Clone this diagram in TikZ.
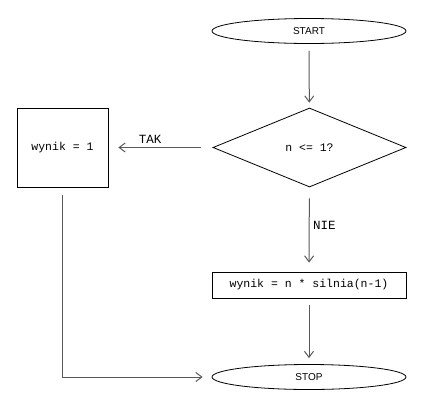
\documentclass[tikz,border=0pt]{standalone}
\usepackage{fontspec}
\setmainfont{Liberation Sans}
\setmonofont{Liberation Mono}
\usetikzlibrary{shapes.geometric,arrows.meta}

\tikzset{
  term/.style={draw,ellipse,line width=0.8pt,minimum width=194pt,minimum height=25pt,inner sep=0pt,font=\fontsize{10}{12}\selectfont},
  decision/.style={draw,diamond,line width=0.8pt,minimum width=193pt,minimum height=79pt,inner sep=0pt,font=\fontsize{11.5}{13}\ttfamily},
  proc/.style={draw,rectangle,line width=0.8pt,inner sep=0pt,font=\fontsize{11.5}{13}\ttfamily},
  flow/.style={draw=black!65,line width=1pt,-{Straight Barb[length=6pt,width=9pt]}},
  branch/.style={font=\fontsize{12.5}{14}\ttfamily}
}

\begin{document}
\begin{tikzpicture}[x=1pt,y=-1pt]
\useasboundingbox (0,0) rectangle (421,405);
\node[term] (start) at (309,31) {START};
\node[decision] (cond) at (309.5,147.5) {n <= 1?};
\node[proc,minimum width=91pt,minimum height=79pt] (base) at (62.5,147.5) {wynik = 1};
\node[proc,minimum width=194pt,minimum height=26pt] (rec) at (309,285) {wynik = n * silnia(n-1)};
\node[term] (stop) at (309,377) {STOP};

\draw[flow,shorten <=7pt,shorten >=5pt] (start) -- (cond);
\draw[flow,shorten <=12pt,shorten >=10pt] (cond) -- node[branch,above,pos=0.6]{TAK} (base);
\draw[flow,shorten <=11pt,shorten >=9pt] (cond) -- node[branch,right,pos=0.45]{NIE} (rec);
\draw[flow,shorten <=7pt,shorten >=6pt] (rec) -- (stop);
\draw[flow,shorten <=8pt,shorten >=9pt] (base) |- (stop);
\end{tikzpicture}
\end{document}
